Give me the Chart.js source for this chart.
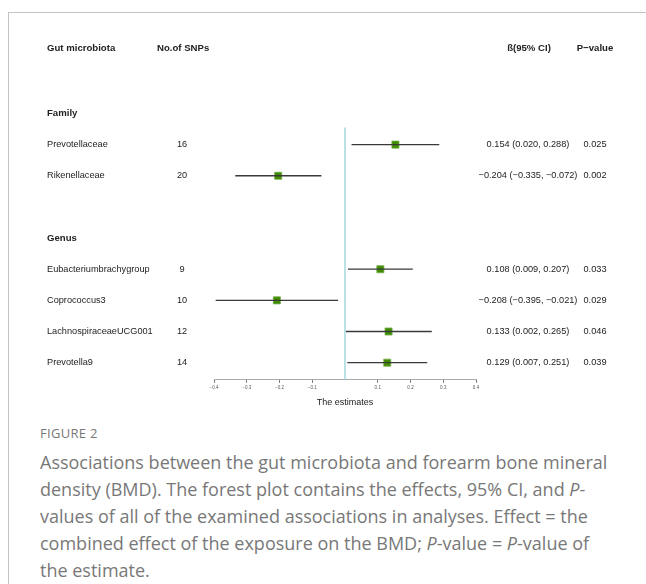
<!DOCTYPE html>
<html lang="en">
<head>
<meta charset="UTF-8">
<title>Forest plot</title>
<script src="https://cdn.jsdelivr.net/npm/chart.js"></script>
<style>
  body { margin: 0; background: #fff; width: 646px; height: 584px; overflow: hidden; position: relative; font-family: 'Open Sans', sans-serif; }
  .frame { position: absolute; left: 8px; top: 12px; right: 0; bottom: 0; border-left: 1px solid #c4c4c4; border-top: 1px solid #c4c4c4; }
  #plot { position: absolute; left: 0; top: 0; width: 646px; height: 420px; }
  .caption { position: absolute; left: 40px; top: 420px; color: #787878; white-space: nowrap; }
  .caption .fig { font-size: 13px; letter-spacing: 0.3px; line-height: 26px; }
  .caption .txt { font-size: 18px; line-height: 27px; margin-top: 3px; }
</style>
</head>
<body>
<div class="frame"></div>
<div id="plot"><canvas id="forest"></canvas></div>
<div class="caption">
  <div class="fig">FIGURE 2</div>
  <div class="txt">Associations between the gut microbiota and forearm bone mineral<br>density (BMD). The forest plot contains the effects, 95% CI, and <i>P</i>-<br>values of all of the examined associations in analyses. Effect = the<br>combined effect of the exposure on the BMD; <i>P</i>-value = <i>P</i>-value of<br>the estimate.</div>
</div>
<script>
// table rows (row index = vertical position in the plot)
const sections = [
  { name: "Family", row: 2 },
  { name: "Genus", row: 6 }
];
const taxa = ["Prevotellaceae", "Rikenellaceae", "Eubacteriumbrachygroup", "Coprococcus3", "LachnospiraceaeUCG001", "Prevotella9"];
const taxaRows = [3, 4, 7, 8, 9, 10];
const nSnps = [16, 20, 9, 10, 12, 14];
const beta = [0.154, -0.204, 0.108, -0.208, 0.133, 0.129];
const ciLow = [0.020, -0.335, 0.009, -0.395, 0.002, 0.007];
const ciHigh = [0.288, -0.072, 0.207, -0.021, 0.265, 0.251];
const pValues = ["0.025", "0.002", "0.033", "0.029", "0.046", "0.039"];
const headers = ["Gut microbiota", "No.of SNPs", "ß(95% CI)", "P\u2212value"];
const tickLabels = ["\u22120.4", "\u22120.3", "\u22120.2", "\u22120.1", "", "0.1", "0.2", "0.3", "0.4"];

const fmt = v => (v < 0 ? "\u2212" : "") + Math.abs(v).toFixed(3);
const ciText = beta.map((b, i) => `${fmt(b)} (${fmt(ciLow[i])}, ${fmt(ciHigh[i])})`);

// CI segments, broken with nulls between rows
const ciSegs = [];
taxaRows.forEach((r, i) => {
  ciSegs.push({ x: ciLow[i], y: r }, { x: ciHigh[i], y: r }, { x: ciHigh[i], y: null });
});

const tablePlugin = {
  id: 'tableText',
  afterDraw(chart) {
    const { ctx, scales: { y } } = chart;
    ctx.save();
    ctx.fillStyle = '#222';
    ctx.textBaseline = 'middle';
    const hy = y.getPixelForValue(-0.08);
    ctx.font = 'bold 9.6px "Liberation Sans", Arial, sans-serif';
    ctx.textAlign = 'left';
    ctx.fillText(headers[0], 47, hy);
    ctx.fillText(headers[1], 157, hy);
    ctx.textAlign = 'center';
    ctx.fillText(headers[2], 529, hy);
    ctx.fillText(headers[3], 595, hy);
    ctx.textAlign = 'left';
    sections.forEach(s => ctx.fillText(s.name, 47, y.getPixelForValue(s.row)));
    ctx.font = '9.2px "Liberation Sans", Arial, sans-serif';
    taxa.forEach((t, i) => {
      const py = y.getPixelForValue(taxaRows[i]);
      ctx.textAlign = 'left';
      ctx.fillText(t, 47, py);
      ctx.textAlign = 'center';
      ctx.fillText(String(nSnps[i]), 182, py);
      ctx.fillText(ciText[i], 528, py);
      ctx.fillText(pValues[i], 595, py);
    });
    ctx.restore();
  }
};

new Chart(document.getElementById('forest'), {
  type: 'scatter',
  data: {
    datasets: [
      {
        type: 'line',
        data: [{ x: 0, y: 2.45 }, { x: 0, y: 10.55 }],
        borderColor: '#a6d6dd',
        borderWidth: 1.5,
        pointRadius: 0
      },
      {
        type: 'line',
        data: ciSegs,
        borderColor: '#3a3a3a',
        borderWidth: 1.3,
        pointRadius: 0,
        spanGaps: false
      },
      {
        data: beta.map((b, i) => ({ x: b, y: taxaRows[i] })),
        pointStyle: 'rect',
        pointRadius: 5,
        backgroundColor: '#3f8c00',
        borderColor: '#74ad4a',
        borderWidth: 0.8
      }
    ]
  },
  options: {
    responsive: true,
    maintainAspectRatio: false,
    animation: false,
    layout: { padding: { left: 214, right: 170, top: 20, bottom: 12 } },
    plugins: { legend: { display: false }, tooltip: { enabled: false } },
    scales: {
      x: {
        type: 'linear',
        min: -0.4, max: 0.4,
        grid: {
          drawOnChartArea: false,
          drawTicks: true,
          tickLength: 3,
          color: c => (c.tick && Math.abs(c.tick.value) < 1e-9) ? 'rgba(0,0,0,0)' : '#777'
        },
        border: { display: true, color: '#aaa', width: 1 },
        ticks: {
          stepSize: 0.1,
          autoSkip: false,
          maxRotation: 0,
          padding: 2,
          color: '#555',
          font: { size: 4.5, family: '"Liberation Sans", Arial, sans-serif' },
          callback: (v, i) => tickLabels[i]
        },
        title: {
          display: true,
          text: 'The estimates',
          color: '#222',
          padding: { top: 5, bottom: 0 },
          font: { size: 9, family: '"Liberation Sans", Arial, sans-serif' }
        }
      },
      y: {
        type: 'linear',
        display: false,
        reverse: true,
        min: -1,
        max: 10.55
      }
    }
  },
  plugins: [tablePlugin]
});
</script>
</body>
</html>
